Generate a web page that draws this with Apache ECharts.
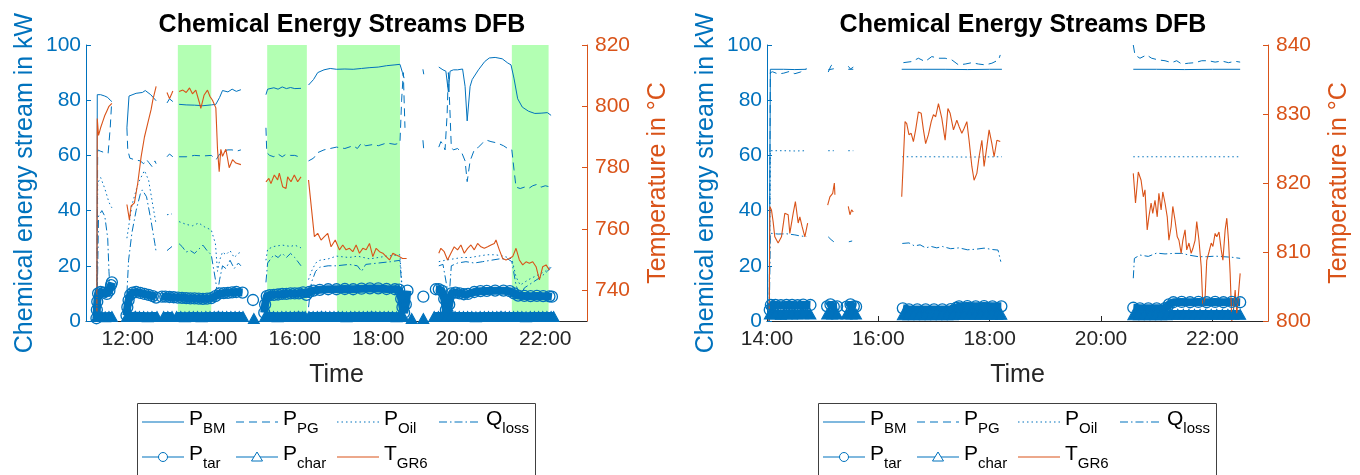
<!DOCTYPE html>
<html><head><meta charset="utf-8">
<script src="https://cdn.jsdelivr.net/npm/echarts@6/dist/echarts.min.js"></script>
<style>html,body{margin:0;padding:0;background:#fff}#c{width:1360px;height:475px}</style>
</head><body><div id="c"></div>
<script>
// ---------- DATA (time in hours, values in kW / °C; null = gap) ----------
const titleText = 'Chemical Energy Streams DFB';
const seriesNames = ['P_BM','P_PG','P_Oil','Q_loss','P_tar','P_char','T_GR6'];
const leftTimeTicks = [12,14,16,18,20,22];
const rightTimeTicks = [14,16,18,20,22];
const leftTempTicks = [740,760,780,800,820];
const bandsLeft = [[13.2,14.0],[15.34,16.29],[17.01,18.52],[21.2,22.08]];

const L_BM = [[11.26,0],[11.27,82],[11.35,82],[11.45,81.5],[11.52,81],[11.58,80],[11.62,79.5],null,
[11.98,70],[12.03,81.5],[12.2,82.5],[12.35,82.8],[12.42,83.5],[12.55,82],[12.68,79.8],null,
[12.94,79],[13.0,80.5],[13.08,79.5],null,
[13.23,78.5],[13.4,78.3],[13.6,78.2],[13.8,78],[14.0,78.3],[14.11,78.5],[14.2,81],[14.27,83.5],[14.4,83],[14.5,84],[14.6,83.2],[14.71,83.8],null,
[15.31,82],[15.35,84],[15.5,84.5],[15.6,84],[15.7,84.8],[15.8,84.2],[15.9,84.6],[16.0,84.2],[16.15,84.3],null,
[16.33,85.5],[16.45,87.5],[16.55,90],[16.7,91],[16.85,91.5],[17.0,91.2],[17.2,91.3],[17.4,91.2],[17.6,91.5],[17.8,91.8],[18.0,92],[18.2,92.5],[18.4,92.8],[18.52,93],[18.58,90],[18.62,88],null,
[19.07,91.2],[19.09,89.4],null,
[19.45,92],[19.55,91],[19.62,90.5],[19.68,83],[19.72,90.5],[19.8,91],[19.9,91],[20.02,91.3],[20.08,85],[20.13,72.5],[20.2,85],[20.25,87.5],[20.4,91],[20.55,94],[20.66,95.3],[20.8,95.5],[20.97,95],[21.1,93.5],[21.18,92.8],[21.25,88],[21.34,80.5],[21.45,77.5],[21.6,76],[21.75,75.2],[21.9,75.3],[22.05,75.5],[22.14,74.5]];

const L_PG = [[11.26,0],[11.28,62],[11.35,61.5],[11.45,61],[11.53,60.8],[11.58,70],[11.61,78],null,
[11.98,70],[12.0,62],[12.05,59],[12.15,58.5],[12.3,58],[12.38,57],[12.45,58.5],[12.5,57.5],[12.58,56],[12.65,58],[12.68,57],null,
[12.94,59.5],[13.0,60.5],[13.08,59.5],null,
[13.23,59.5],[13.4,59.5],[13.6,60],[13.8,59.8],[14.0,60],[14.12,58.5],[14.2,60.5],[14.27,61.5],[14.4,62],[14.5,62],[14.6,61.5],[14.71,62],null,
[15.31,70],[15.33,61],[15.4,60],[15.5,59.5],[15.6,60.5],[15.7,59.5],[15.8,60.5],[15.9,60],[16.0,60],[16.1,59.5],[16.15,58.5],null,
[16.33,58],[16.45,59],[16.55,61],[16.7,62],[16.85,62.5],[17.0,63],[17.2,62.5],[17.4,63.5],[17.5,62.5],[17.6,64.5],[17.7,63.5],[17.9,64],[18.0,63.5],[18.2,64.5],[18.4,64],[18.52,64.5],[18.56,80],[18.6,90],[18.64,70],null,
[19.07,65.5],[19.09,62],null,
[19.45,63],[19.5,65],[19.55,64],[19.6,62],[19.65,75],[19.68,90],[19.72,75],[19.75,63],[19.8,62],[19.9,62.5],[20.0,61],[20.08,58],[20.13,50.5],[20.2,58],[20.3,62],[20.4,63],[20.5,64.5],[20.6,65.5],[20.7,65],[20.85,64.5],[21.0,63.5],[21.1,62.5],[21.2,62],[21.25,55],[21.3,48.5],[21.4,48],[21.5,48.5],[21.6,48],[21.7,49],[21.8,49.5],[21.9,48.5],[22.0,49],[22.14,48.5]];

const L_OIL = [[11.26,0],[11.28,50],[11.35,52],[11.45,48],[11.55,43],[11.62,41],null,
[11.98,30],[12.1,42],[12.25,50],[12.4,54.5],[12.5,51],[12.6,42],[12.68,35],null,
[12.94,38.5],[13.06,38.8],null,
[13.23,36],[13.4,35],[13.55,34.5],[13.7,35.5],[13.85,34],[14.0,33],[14.1,28],[14.15,18],[14.2,22],[14.27,25],[14.35,24],[14.45,25.5],[14.55,23],[14.65,24.5],[14.71,25],null,
[15.31,22],[15.35,26],[15.5,27],[15.7,27.5],[15.9,27],[16.0,27.5],[16.15,26.5],null,
[16.33,15],[16.4,18],[16.5,21],[16.6,22],[16.8,22.5],[17.0,23.5],[17.3,23],[17.5,23.5],[17.8,22.5],[18.0,23],[18.2,23.5],[18.52,24],[18.58,10],[18.62,2],null,
[19.45,21.5],[19.6,22],[19.8,22.5],[20.0,23],[20.2,23],[20.4,23.5],[20.6,24],[20.8,24],[21.0,23.5],[21.2,22.5],[21.3,16],[21.4,13],[21.6,15],[21.8,16.5],[22.0,18],[22.14,20]];

const L_QL = [[11.26,0],[11.3,38],[11.38,40],[11.45,38],[11.52,30],[11.55,18],[11.58,10],null,
[11.98,10],[12.02,22],[12.1,32],[12.2,40],[12.3,46],[12.35,47.5],[12.45,45],[12.55,37],[12.65,28],[12.68,25],null,
[12.94,25.5],[13.06,27],null,
[13.23,28],[13.3,27],[13.4,25],[13.5,25.5],[13.6,24.5],[13.7,26],[13.8,27.5],[13.9,25.5],[14.0,24],[14.1,15],[14.15,10],[14.2,15],[14.27,20],[14.35,19],[14.45,22],[14.55,19],[14.65,21],[14.71,20],null,
[15.31,14],[15.35,21],[15.5,24],[15.6,23],[15.7,24.5],[15.8,23],[15.9,24.5],[16.0,23],[16.1,21],[16.15,20],null,
[16.33,5],[16.4,14],[16.5,18],[16.6,19.5],[16.8,20],[17.0,20],[17.3,20.5],[17.5,20],[17.6,18],[17.7,20.5],[18.0,21],[18.3,21.5],[18.52,22],[18.58,8],[18.62,1],null,
[19.45,20],[19.55,20.5],[19.65,12],[19.7,9],[19.75,20],[19.9,21],[20.1,21.5],[20.3,21],[20.5,21.5],[20.7,22],[20.9,22.5],[21.1,22.5],[21.2,21.5],[21.3,13],[21.4,9],[21.5,12],[21.7,14],[21.9,16],[22.05,18],[22.14,19.5]];

const L_TAR = [[11.25,1],[11.26,4],[11.27,7],[11.29,10],[11.35,10.5],[11.42,10.3],[11.5,9.8],[11.56,11],[11.6,13],[11.62,14],null,
[11.97,2],[11.99,5],[12.02,7.5],[12.06,9.5],[12.12,10.3],[12.2,10.5],[12.3,10.2],[12.4,9.8],[12.5,9.5],[12.6,9],[12.68,8.5],null,
[12.82,8.8],[12.9,8.8],[13.0,8.7],[13.1,8.6],[13.2,8.5],[13.3,8.4],[13.4,8.3],[13.5,8.2],[13.6,8.2],[13.7,8.1],[13.8,8],[13.9,8.1],[14.0,8.3],[14.1,9],[14.2,10],[14.3,10.1],[14.4,10.2],[14.5,10.4],[14.6,10.5],[14.75,10.3],null,
[15.0,7.6],null,
[15.27,3],[15.29,6],[15.33,9],[15.4,9.4],[15.5,9.5],[15.6,9.6],[15.7,9.8],[15.8,9.8],[15.9,10],[16.0,10],[16.1,10],[16.2,10.4],[16.28,9.5],[16.35,10.5],[16.45,11],[16.6,11.3],[16.8,11.5],[17.0,11.5],[17.2,11.6],[17.4,11.5],[17.6,11.7],[17.8,11.8],[18.0,11.8],[18.2,11.6],[18.4,11.5],[18.5,11.4],[18.55,8],[18.58,5],[18.62,3],[18.66,6],[18.7,11],null,
[19.08,8.8],null,
[19.38,11.5],[19.45,11.5],[19.52,11],[19.58,8],[19.62,4],[19.66,3],[19.7,6],[19.75,10],[19.85,10.3],[19.95,10],[20.05,9.7],[20.15,9.8],[20.3,10.5],[20.45,10.8],[20.6,10.9],[20.8,11],[21.0,11],[21.15,10.8],[21.25,10],[21.35,9.2],[21.5,9.1],[21.65,9],[21.8,9.1],[21.95,9],[22.1,8.9],[22.16,8.8]];

const L_CHAR = [[11.26,1.6],[11.36,1.6],[11.46,1.5],[11.55,1.6],[11.62,1.6],null,
[11.98,1.6],[12.08,1.6],[12.18,1.7],[12.28,1.6],[12.38,1.6],[12.48,1.5],[12.58,1.6],[12.7,1.6],null,
[12.86,1.6],[12.96,1.6],[13.06,1.6],null,
[13.17,1.6],[13.27,1.6],[13.37,1.5],[13.47,1.6],[13.57,1.6],[13.67,1.6],[13.77,1.5],[13.87,1.6],[13.97,1.6],[14.07,1.6],[14.17,1.7],[14.27,1.6],[14.37,1.6],[14.47,1.6],[14.57,1.6],[14.67,1.6],[14.76,1.6],null,
[15.02,0.9],null,
[15.29,1.6],[15.39,1.6],[15.49,1.6],[15.59,1.5],[15.69,1.6],[15.79,1.6],[15.89,1.6],[15.99,1.6],[16.09,1.7],[16.19,1.6],[16.25,1.6],null,
[16.34,1.6],[16.44,1.6],[16.54,1.6],[16.64,1.7],[16.74,1.6],[16.84,1.6],[16.94,1.6],[17.04,1.6],[17.14,1.6],[17.24,1.5],[17.34,1.6],[17.44,1.6],[17.54,1.6],[17.64,1.6],[17.74,1.6],[17.84,1.7],[17.94,1.6],[18.04,1.6],[18.14,1.6],[18.24,1.6],[18.34,1.6],[18.44,1.5],[18.54,1.6],[18.6,1.6],null,
[18.8,0.9],null,[19.08,0.9],null,
[19.34,1.6],[19.44,1.6],[19.54,1.6],[19.64,1.6],[19.74,1.7],[19.84,1.6],[19.94,1.6],[20.04,1.6],[20.14,1.6],[20.24,1.6],[20.34,1.5],[20.44,1.6],[20.54,1.6],[20.64,1.6],[20.74,1.6],[20.84,1.6],[20.94,1.7],[21.04,1.6],[21.14,1.6],[21.24,1.6],[21.34,1.6],[21.44,1.6],[21.54,1.5],[21.64,1.6],[21.74,1.6],[21.84,1.6],[21.94,1.6],[22.04,1.6],[22.14,1.6],[22.2,1.6]];

const L_T = [[11.26,730],[11.27,796],[11.3,790.5],[11.35,793],[11.4,795],[11.45,797],[11.5,798.5],[11.55,800],[11.62,801],null,
[11.98,768],[12.04,763],[12.08,767.5],[12.16,768.5],[12.24,775],[12.32,783.5],[12.4,790],[12.48,794.5],[12.56,799],[12.6,802],[12.68,806.5],null,
[12.94,804.5],[13.0,802.5],[13.05,804],[13.08,805],null,
[13.23,804.8],[13.32,805.3],[13.4,804.5],[13.48,806],[13.55,804.1],[13.63,805.3],[13.71,801.5],[13.75,799.3],[13.83,803.7],[13.91,805.3],[13.97,803.2],[14.03,802],[14.11,799.5],[14.15,786],[14.19,778.7],[14.23,786],[14.27,783.7],[14.35,786],[14.43,780],[14.51,782.6],[14.59,781.5],[14.71,781],null,
[15.31,775.4],[15.38,776.5],[15.43,774.8],[15.51,777.6],[15.59,776],[15.63,778.2],[15.71,773.8],[15.79,773.2],[15.83,777],[15.91,775.4],[15.99,777.6],[16.07,775.4],[16.15,777],null,
[16.33,776],[16.47,757.5],[16.55,758.6],[16.63,756.4],[16.71,757.5],[16.79,758.6],[16.87,754.2],[16.97,756.4],[17.07,753.2],[17.15,754.8],[17.23,753.2],[17.31,753.7],[17.39,752.6],[17.47,754.8],[17.55,752.1],[17.63,753.7],[17.71,753.2],[17.79,755.3],[17.87,751],[17.95,753.7],[18.03,752.6],[18.11,752.1],[18.19,751],[18.27,749.9],[18.35,752.1],[18.43,751.5],[18.51,751],[18.58,750.4],[18.68,750.4],null,
[19.45,752.1],[19.5,753.7],[19.58,752.6],[19.66,749.9],[19.74,752.1],[19.82,754.2],[19.9,753.2],[19.98,754.8],[20.06,752.1],[20.14,753.7],[20.22,754.8],[20.3,753.2],[20.38,755.3],[20.46,754.2],[20.54,753.7],[20.62,754.2],[20.7,754.8],[20.78,755.3],[20.82,756.4],[20.9,753.2],[20.98,750.4],[21.06,749.9],[21.14,750.4],[21.22,751],[21.3,753.7],[21.38,749.9],[21.46,748.3],[21.54,749.3],[21.62,748.8],[21.7,749.3],[21.78,747.7],[21.86,743.4],[21.94,747.7],[22.02,748.3],[22.1,746.6]];

const R_BM = [[14.04,0],[14.06,91.2],[14.3,91.2],[14.5,91.1],[14.71,91.2],null,
[15.1,91],[15.2,91.4],null,[15.46,91.2],[15.55,91.2],null,
[16.42,91.2],[16.8,91.2],[17.2,91.2],[17.6,91.1],[18.0,91.2],[18.22,91.2],null,
[20.58,91.2],[21.0,91.2],[21.5,91.1],[22.0,91.2],[22.5,91.2]];

const R_PG = [[14.04,0],[14.06,90],[14.1,90.3],[14.2,89.5],[14.3,89.8],[14.4,90.4],[14.5,89.6],[14.6,90.2],[14.71,91.5],null,
[15.1,90.2],[15.15,92.5],[15.2,93.2],null,[15.46,92.3],[15.5,91.3],[15.55,92],null,
[16.45,93.6],[16.6,94],[16.72,95.2],[16.84,94],[16.96,95.8],[17.08,95.2],[17.2,95.2],[17.32,94.6],[17.44,92.8],[17.56,93.1],[17.68,93.6],[17.8,93.1],[17.92,92.8],[18.04,93.4],[18.16,94.6],[18.19,96.4],null,
[20.58,100],[20.61,96.4],[20.7,95.2],[20.82,96.4],[20.91,95.2],[21.03,94.6],[21.15,94.3],[21.27,93.6],[21.36,94.3],[21.45,93.1],[21.57,93.4],[21.69,93.6],[21.81,94.3],[21.93,94.3],[22.05,93.8],[22.17,94.2],[22.29,93.6],[22.41,94.1],[22.5,93.8]];

const R_OIL = [[14.04,0],[14.06,61.7],[14.3,61.7],[14.5,61.6],[14.71,61.7],null,
[15.1,61.7],[15.2,61.7],null,[15.46,61.7],[15.55,61.7],null,
[16.43,59.5],[17.0,59.5],[17.6,59.4],[18.22,59.5],null,
[20.58,59.5],[21.2,59.5],[21.8,59.5],[22.48,59.5]];

const R_QL = [[14.04,0],[14.06,31.8],[14.2,31.5],[14.35,31.6],[14.5,31.2],[14.6,30.8],[14.71,30.6],null,
[15.1,30.5],[15.15,29.5],[15.2,28.7],null,[15.47,28.7],[15.53,29],null,
[16.43,28.1],[16.55,28.3],[16.65,27.2],[16.75,27.6],[16.85,26.5],[16.95,27],[17.05,26.5],[17.15,27],[17.3,26.2],[17.45,26.5],[17.6,25.8],[17.75,26],[17.9,26.4],[18.05,25.9],[18.15,25.7],[18.2,21.5],null,
[20.58,15.5],[20.6,22.7],[20.7,23.9],[20.85,23.4],[21.0,24.6],[21.15,24.3],[21.3,24.5],[21.45,24.5],[21.6,23.8],[21.75,23.3],[21.9,23.3],[22.05,23.5],[22.2,23.3],[22.35,23.1],[22.5,22.7]];

const R_TAR = [[14.05,4],[14.07,5.8],[14.15,5.8],[14.25,5.7],[14.35,5.8],[14.45,5.8],[14.55,5.7],[14.65,5.9],[14.78,5.8],null,
[15.08,5.3],[15.14,6],[15.2,5.2],[15.26,5.3],null,[15.43,5.2],[15.5,6],[15.56,5.3],[15.6,5.2],null,
[16.44,4.6],[16.55,4.2],[16.7,4.2],[16.85,4.2],[17.0,4.2],[17.15,4.2],[17.3,4.3],[17.4,4.8],[17.45,5.3],[17.6,5.4],[17.75,5.3],[17.9,5.4],[18.05,5.3],[18.21,5.3],null,
[20.58,4.8],[20.7,4.6],[20.85,4.6],[21.0,4.6],[21.15,4.7],[21.22,6],[21.3,6.8],[21.45,6.9],[21.6,6.8],[21.75,6.9],[21.9,6.8],[22.05,6.9],[22.2,6.8],[22.35,6.9],[22.5,6.8]];

const R_CHAR = [[14.05,2.5],[14.15,2.5],[14.25,2.4],[14.35,2.5],[14.45,2.5],[14.55,2.5],[14.65,2.6],[14.78,2.5],null,
[15.08,2.5],[15.17,2.5],[15.26,2.5],null,[15.43,2.5],[15.52,2.5],[15.6,2.5],null,
[16.44,2.3],[16.54,2.3],[16.64,2.3],[16.74,2.3],[16.84,2.3],[16.94,2.3],[17.04,2.3],[17.14,2.3],[17.24,2.3],[17.34,2.3],[17.44,2.4],[17.54,2.4],[17.64,2.4],[17.74,2.4],[17.84,2.4],[17.94,2.4],[18.04,2.4],[18.14,2.4],[18.21,2.4],null,
[20.58,2.3],[20.68,2.3],[20.78,2.3],[20.88,2.3],[20.98,2.3],[21.08,2.3],[21.18,2.3],[21.28,2.4],[21.38,2.4],[21.48,2.4],[21.58,2.4],[21.68,2.4],[21.78,2.4],[21.88,2.4],[21.98,2.4],[22.08,2.4],[22.18,2.4],[22.28,2.4],[22.38,2.4],[22.5,2.4]];

const R_T = [[14.04,800],[14.05,816.6],[14.08,816.1],[14.11,814.4],[14.14,812.2],[14.2,811.3],[14.26,812.2],[14.32,815.6],[14.38,815.4],[14.41,812.7],[14.47,815.6],[14.51,817.3],[14.56,814.2],[14.59,815.1],[14.63,813.7],[14.68,812.2],[14.73,814.2],null,
[15.09,816.8],[15.13,818],[15.18,818.5],[15.21,820],[15.22,818.3],null,[15.46,816.6],[15.49,815.4],[15.52,816.1],[15.55,815.8],null,
[16.42,818],[16.48,828.9],[16.51,828.6],[16.55,827],[16.59,827.2],[16.63,826],[16.67,827.7],[16.72,830.3],[16.77,830.1],[16.81,827.7],[16.85,825.7],[16.9,827],[16.95,828.9],[16.99,829.9],[17.03,829.6],[17.08,831.5],[17.14,829.4],[17.2,826.2],[17.25,830.8],[17.29,830.1],[17.35,827.7],[17.41,829.1],[17.45,828.2],[17.5,827.2],[17.54,827.9],[17.59,828.9],[17.63,826.2],[17.68,822.4],[17.72,820.4],[17.77,821.4],[17.81,823.8],[17.86,826.2],[17.9,822.4],[17.95,825.3],[17.99,827.7],[18.04,825.7],[18.08,823.8],[18.13,826.2],[18.19,826],null,
[20.58,821.4],[20.62,817.1],[20.67,821.6],[20.72,820.4],[20.76,818],[20.79,819],[20.83,813.2],[20.86,815.1],[20.9,817.1],[20.93,815.6],[20.97,817.5],[21.01,815.1],[21.04,818.5],[21.08,816.1],[21.11,818.7],[21.15,817.1],[21.19,815.1],[21.22,811.7],[21.26,813.7],[21.29,816.6],[21.33,814.6],[21.37,812.2],[21.4,811.7],[21.44,809.8],[21.47,811.7],[21.51,813.2],[21.54,810.3],[21.58,811.3],[21.62,809.8],[21.65,810.5],[21.69,811.7],[21.72,814.4],[21.76,811.7],[21.8,807.9],[21.83,802.1],[21.87,803.5],[21.9,808.8],[21.94,810],[21.98,811.3],[22.01,810.8],[22.05,812.7],[22.08,812.2],[22.12,812.9],[22.16,810.3],[22.19,808.8],[22.23,813.2],[22.26,814.9],[22.29,811.7],[22.32,806.9],[22.35,800],[22.38,801.6],[22.41,804.5],[22.44,801.1],[22.47,804],[22.5,806.9]];

// ---------- CHART ----------
const FONT = 'Liberation Sans, Arial, Helvetica, sans-serif';
const BLUE = '#0072BD', ORANGE = '#D95319', DARK = '#262626';
const G = a => a.map(p => p === null ? ['-', '-'] : p);
const hh = v => (v < 10 ? '0' : '') + v + ':00';

function lineSeries(name, data, xi, yi, extra) {
  return Object.assign({
    name, type: 'line', data: G(data), xAxisIndex: xi, yAxisIndex: yi,
    symbol: 'none', connectNulls: false, silent: true, animation: false,
    lineStyle: { color: BLUE, width: 1 }, itemStyle: { color: BLUE }
  }, extra || {});
}
const dashTypes = { P_BM: null, P_PG: [8, 5], P_Oil: [1.5, 3], Q_loss: [8, 3, 1.5, 3], P_tar: null, P_char: null, T_GR6: null };
const styles = {
  P_BM: {},
  P_PG: { lineStyle: { color: BLUE, width: 1, type: dashTypes.P_PG } },
  P_Oil: { lineStyle: { color: BLUE, width: 1, type: dashTypes.P_Oil } },
  Q_loss: { lineStyle: { color: BLUE, width: 1, type: dashTypes.Q_loss } },
  P_tar: { symbol: 'circle', symbolSize: 11, showSymbol: true,
    itemStyle: { color: 'rgba(255,255,255,0)', borderColor: BLUE, borderWidth: 1.3 },
    lineStyle: { color: BLUE, width: 8 } },
  P_char: { symbol: 'triangle', symbolSize: [11, 10], showSymbol: true,
    itemStyle: { color: BLUE, borderColor: BLUE, borderWidth: 1 },
    lineStyle: { color: BLUE, width: 9 } },
  T_GR6: { lineStyle: { color: ORANGE, width: 1.1 }, itemStyle: { color: ORANGE } }
};
const leftSets = [L_BM, L_PG, L_OIL, L_QL, L_TAR, L_CHAR, L_T];
const rightSets = [R_BM, R_PG, R_OIL, R_QL, R_TAR, R_CHAR, R_T];

const series = [{
  name: 'bands', type: 'line', data: [], xAxisIndex: 0, yAxisIndex: 0, silent: true, z: 0,
  markArea: { silent: true, itemStyle: { color: '#b3ffb3', opacity: 1 },
    data: bandsLeft.map(b => [{ xAxis: b[0] }, { xAxis: b[1] }]) }
}];
seriesNames.forEach((n, i) => {
  const isT = n === 'T_GR6';
  series.push(lineSeries(n, leftSets[i], 0, isT ? 1 : 0, styles[n]));
});
seriesNames.forEach((n, i) => {
  const isT = n === 'T_GR6';
  series.push(lineSeries(n, rightSets[i], 1, isT ? 3 : 2, styles[n]));
});

const grids = [
  { left: 86, top: 45, width: 501, height: 276 },
  { left: 767, top: 45, width: 501, height: 276 }
];
function xAx(gi, min, max, ticks) {
  return {
    type: 'value', gridIndex: gi, min, max,
    name: 'Time', nameLocation: 'middle', nameGap: 42,
    nameTextStyle: { color: DARK, fontSize: 25, fontFamily: FONT },
    axisLine: { show: true, onZero: false, lineStyle: { color: DARK, width: 1 } },
    axisTick: { show: true, inside: true, length: 5, customValues: ticks, lineStyle: { color: DARK } },
    axisLabel: { customValues: ticks, formatter: hh, color: DARK, fontSize: 21, fontFamily: FONT, margin: 8 },
    splitLine: { show: false }
  };
}
function yAx(gi, pos, color, min, max, name, gap, ticks, interval) {
  const a = {
    type: 'value', gridIndex: gi, position: pos, min, max,
    name, nameLocation: 'middle', nameGap: gap, nameRotate: 90,
    nameTextStyle: { color, fontSize: 25, fontFamily: FONT },
    axisLine: { show: true, onZero: false, lineStyle: { color, width: 1 } },
    axisTick: { show: true, inside: true, length: 5, lineStyle: { color } },
    axisLabel: { color, fontSize: 21, fontFamily: FONT, margin: pos === 'left' ? 5 : 8 },
    splitLine: { show: false }
  };
  if (ticks) { a.axisTick.customValues = ticks; a.axisLabel.customValues = ticks; }
  if (interval) a.interval = interval;
  return a;
}

// Legend boxes drawn as graphics (sample line + marker + subscripted label)
const legendPosX = [[142, 236, 337, 439], [142, 236, 337]];
const legendPosY = [409, 444];
const richStyles = {
  m: { fontSize: 21, lineHeight: 21, verticalAlign: 'top', fill: '#000', fontFamily: FONT },
  s: { fontSize: 15, lineHeight: 15, padding: [12, 0, 0, 0], verticalAlign: 'top', fill: '#000', fontFamily: FONT }
};
const graphics = [
  { type: 'rect', z: 1, shape: { x: 137.5, y: 403.5, width: 398, height: 90 }, style: { fill: '#fff', stroke: '#404040', lineWidth: 1 } },
  { type: 'rect', z: 1, shape: { x: 818.5, y: 403.5, width: 398, height: 90 }, style: { fill: '#fff', stroke: '#404040', lineWidth: 1 } }
];
[0, 681].forEach(off => {
  let k = 0;
  legendPosX.forEach((row, r) => {
    row.forEach(x => {
      const n = seriesNames[k++];
      const col = n === 'T_GR6' ? ORANGE : BLUE;
      const x0 = x + off, top = legendPosY[r], cy = top + 13, xm = x0 + 21;
      const p = n.split('_');
      graphics.push({ type: 'line', z: 5, shape: { x1: x0, y1: cy, x2: x0 + 42, y2: cy },
        style: { stroke: col, lineWidth: 1.2, lineDash: dashTypes[n] || null } });
      if (n === 'P_tar') graphics.push({ type: 'circle', z: 6, shape: { cx: xm, cy, r: 4.5 }, style: { fill: '#fff', stroke: BLUE, lineWidth: 1 } });
      if (n === 'P_char') graphics.push({ type: 'polygon', z: 6, shape: { points: [[xm, cy - 5], [xm + 5.5, cy + 4], [xm - 5.5, cy + 4]] }, style: { fill: '#fff', stroke: BLUE, lineWidth: 1 } });
      graphics.push({ type: 'text', z: 6, x: x0 + 47, y: top,
        style: { text: '{m|' + p[0] + '}{s|' + p[1] + '}', rich: richStyles, verticalAlign: 'top', align: 'left', fill: '#000', fontSize: 21, fontFamily: FONT } });
    });
  });
});

const option = {
  animation: false,
  backgroundColor: '#fff',
  title: [
    { text: titleText, left: 337, top: 8, textAlign: 'center', textStyle: { fontSize: 25, fontWeight: 'bold', color: '#000', fontFamily: FONT } },
    { text: titleText, left: 1018, top: 8, textAlign: 'center', textStyle: { fontSize: 25, fontWeight: 'bold', color: '#000', fontFamily: FONT } }
  ],
  grid: grids,
  xAxis: [xAx(0, 11, 23, leftTimeTicks), xAx(1, 14, 23, rightTimeTicks)],
  yAxis: [
    yAx(0, 'left', BLUE, 0, 100, 'Chemical energy stream in kW', 48, null, 20),
    yAx(0, 'right', ORANGE, 730, 820, 'Temperature in °C', 59, leftTempTicks, null),
    yAx(1, 'left', BLUE, 0, 100, 'Chemical energy stream in kW', 48, null, 20),
    yAx(1, 'right', ORANGE, 800, 840, 'Temperature in °C', 59, null, 10)
  ],
  graphic: graphics,
  series
};
const chart = echarts.init(document.getElementById('c'), null, { renderer: 'canvas' });
chart.setOption(option);
</script></body></html>
